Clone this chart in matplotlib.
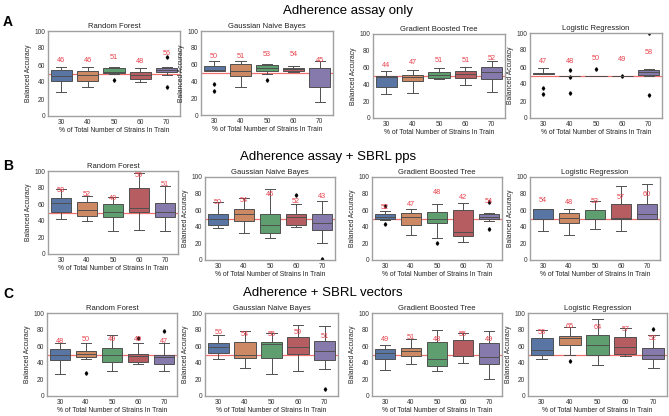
import numpy as np
import matplotlib
matplotlib.use('Agg')
import matplotlib.pyplot as plt
import seaborn as sns

plt.rcParams['font.family'] = ['Liberation Sans', 'DejaVu Sans']

# ---- data ----
models = ['Random Forest', 'Gaussian Naive Bayes', 'Gradient Boosted Tree', 'Logistic Regression']
pct_labels = ['30', '40', '50', '60', '70']
row_titles = ['Adherence assay only', 'Adherence assay + SBRL pps', 'Adherence + SBRL vectors']
row_letters = ['A', 'B', 'C']

# row A : adherence assay only  (one list per model: RF, GNB, GBT, LR)
a_q1 = [[41, 41, 51, 44, 52], [52, 47, 52.5, 52.5, 33], [37.5, 43.5, 47.5, 47.5, 46.5], [51.5, 50, 50, 50, 51]]
a_med = [[47, 48, 52, 48, 54], [54, 52.5, 56, 55, 55.5], [49, 48.5, 51, 52.5, 55], [52, 50, 50, 50, 54]]
a_q3 = [[54, 53, 56, 52, 56], [58.5, 60.5, 60, 56, 56], [49.5, 51, 54.5, 56, 61], [53, 50, 50, 50, 57]]
a_lo = [[28, 34, 49, 40, 48], [52, 33, 49, 51, 15], [28, 30, 46, 39.5, 31], [51.5, 50, 50, 50, 50]]
a_hi = [[58, 58, 58, 56, 58], [64, 64, 61, 58, 64], [56.5, 57, 59, 61, 68], [59, 50, 50, 50, 58]]
a_fliers = [[[], [], [42], [], [69, 34]],
            [[37, 28], [], [42], [], []],
            [[], [], [], [], []],
            [[35, 28], [57, 48, 30], [58], [49], [100, 27]]]
a_means = [[46, 46, 51, 48, 56], [50, 51, 53, 54, 45], [44, 47, 51, 51, 52], [47, 48, 50, 49, 58]]
a_label_y = [[65, 65, 69, 64, 73], [70, 70, 72, 72, 65], [63, 66, 69, 69, 71], [67, 67, 70, 69, 77]]

# row B : adherence assay + SBRL pps
b_q1 = [[51, 46, 45, 51, 45], [42, 47.5, 32, 42, 36], [50, 42, 44, 29, 49], [49, 44, 49, 49, 50]]
b_med = [[62, 53, 51, 55, 51], [50, 55.5, 42, 52, 45], [52, 52, 50, 34, 52], [61, 51, 49.5, 51, 56]]
b_q3 = [[68, 63, 60, 79, 61], [55, 62, 56, 55.5, 55.5], [55, 57, 58, 60, 55], [61, 57, 60, 68, 67]]
b_lo = [[42, 40, 28, 29, 28], [38, 32, 26, 40, 21], [48, 30, 27, 22, 47], [35, 30, 37, 35, 49]]
b_hi = [[78, 70, 69, 97, 82], [70, 75, 85.5, 68, 71], [59, 61, 68, 69, 57], [61, 61, 71, 89, 91]]
b_fliers = [[[], [], [], [], []],
            [[], [], [], [78], [1]],
            [[65, 43], [], [21], [], [70, 37]],
            [[], [], [], [], []]]
b_means = [[58, 52, 49, 59, 51], [50, 54, 46, 52, 43], [52, 47, 48, 42, 54], [54, 48, 53, 57, 60]]
b_label_y = [[77, 72, 67, 94, 84], [69, 72, 79, 71, 76], [63, 67, 81, 75, 70], [72, 69, 71, 75, 79]]

# row C : adherence + SBRL vectors
c_q1 = [[43, 47, 41, 41, 39], [51.5, 46, 46, 50.5, 43], [44, 48, 36, 48, 38], [50, 62, 50, 51, 44]]
c_med = [[50, 51, 50, 48, 47], [59.5, 49, 62.5, 59.5, 54], [52, 54, 44, 48, 47], [55, 70, 62, 59, 50]]
c_q3 = [[57, 54, 58, 51, 50], [63.5, 65.5, 65.5, 71.5, 66], [57, 58, 65, 68, 64], [70, 72, 74, 71, 58]]
c_lo = [[27, 45, 30, 38, 30], [45, 34, 26, 30, 33], [31, 38, 30, 40, 20], [44.5, 49, 37, 48, 34]]
c_hi = [[64, 64, 74, 64, 64], [73.5, 78.5, 76.5, 86, 84.5], [62, 69, 80, 76, 78], [80, 83, 93, 82, 73]]
c_fliers = [[[], [28], [], [70], [78]],
            [[], [], [], [], [8]],
            [[], [], [], [], []],
            [[], [42], [], [], [81]]]
c_means = [[48, 50, 49, 49, 47], [56, 54, 55, 59, 51], [49, 51, 48, 55, 49], [58, 65, 64, 57, 52]]
c_label_y = [[66, 68, 68, 68, 66], [77, 74, 74, 77, 72], [68, 71, 68, 74, 68], [77, 84, 82, 80, 69]]

chance_level = 50

rows = [
    (a_q1, a_med, a_q3, a_lo, a_hi, a_fliers, a_means, a_label_y),
    (b_q1, b_med, b_q3, b_lo, b_hi, b_fliers, b_means, b_label_y),
    (c_q1, c_med, c_q3, c_lo, c_hi, c_fliers, c_means, c_label_y),
]

# axes boxes in pixels (left, top, right, bottom)
W, H = 669, 416
axes_px = [
    [(48, 31, 180, 116), (201, 31, 333, 115), (373, 34, 505, 118), (530, 33, 662, 118)],
    [(48, 171, 178, 254), (205, 177, 335, 260), (372, 177, 502, 260), (530, 177, 660, 260)],
    [(47, 313, 177, 396), (205, 313, 338, 396), (372, 313, 502, 396), (528, 313, 667, 396)],
]
title_px = [(348, 11), (328, 157), (323, 293)]
letter_px = [(3, 22), (3, 166), (3, 294)]

palette = sns.color_palette('deep', 5)
box_colors = [sns.desaturate(c, 0.75) for c in palette]
line_gray = '#505050'

fig = plt.figure(figsize=(W / 100, H / 100), dpi=100)

for r, (q1s, meds, q3s, los, his, fls, means, label_y) in enumerate(rows):
    for m in range(4):
        l, t, rr, b = axes_px[r][m]
        ax = fig.add_axes([l / W, 1 - b / H, (rr - l) / W, (b - t) / H])
        stats = []
        for i in range(5):
            stats.append(dict(q1=q1s[m][i], med=meds[m][i], q3=q3s[m][i],
                              whislo=los[m][i], whishi=his[m][i], fliers=fls[m][i]))
        bp = ax.bxp(stats, positions=range(5), widths=0.8, patch_artist=True,
                    boxprops=dict(edgecolor=line_gray, linewidth=0.7),
                    medianprops=dict(color=line_gray, linewidth=0.7),
                    whiskerprops=dict(color=line_gray, linewidth=0.7),
                    capprops=dict(color=line_gray, linewidth=0.7),
                    flierprops=dict(marker='d', markersize=1.8, markerfacecolor='black',
                                    markeredgecolor='black', linestyle='none'),
                    capwidths=0.4)
        for patch, col in zip(bp['boxes'], box_colors):
            patch.set_facecolor(col)
        ax.axhline(chance_level, color='#f07070', lw=0.9, zorder=0.5)
        for i in range(5):
            ax.text(i, label_y[m][i], str(means[m][i]), color='#e8404c',
                    fontsize=5.2, ha='center', va='center')
        ax.set_xlim(-0.5, 4.5)
        ax.set_ylim(0, 100)
        ax.set_yticks([0, 20, 40, 60, 80, 100])
        ax.set_xticks(range(5))
        ax.set_xticklabels(pct_labels)
        ax.tick_params(length=0, labelsize=4.8, colors='#333333', pad=2)
        ax.set_title(models[m], fontsize=5.5, pad=2, color='#222222')
        ax.set_xlabel('% of Total Number of Strains In Train', fontsize=4.9,
                      labelpad=1, color='#222222')
        ax.set_ylabel('Balanced Accuracy', fontsize=4.9, labelpad=1.5, color='#222222')
        for s in ax.spines.values():
            s.set_color('#a0a0a0')
            s.set_linewidth(1.0)

    tx, ty = title_px[r]
    fig.text(tx / W, 1 - ty / H, row_titles[r], fontsize=9.5, ha='center', va='center')
    lx, ly = letter_px[r]
    fig.text(lx / W, 1 - ly / H, row_letters[r], fontsize=10, fontweight='bold',
             ha='left', va='center')

fig.savefig('out.png', dpi=100)
